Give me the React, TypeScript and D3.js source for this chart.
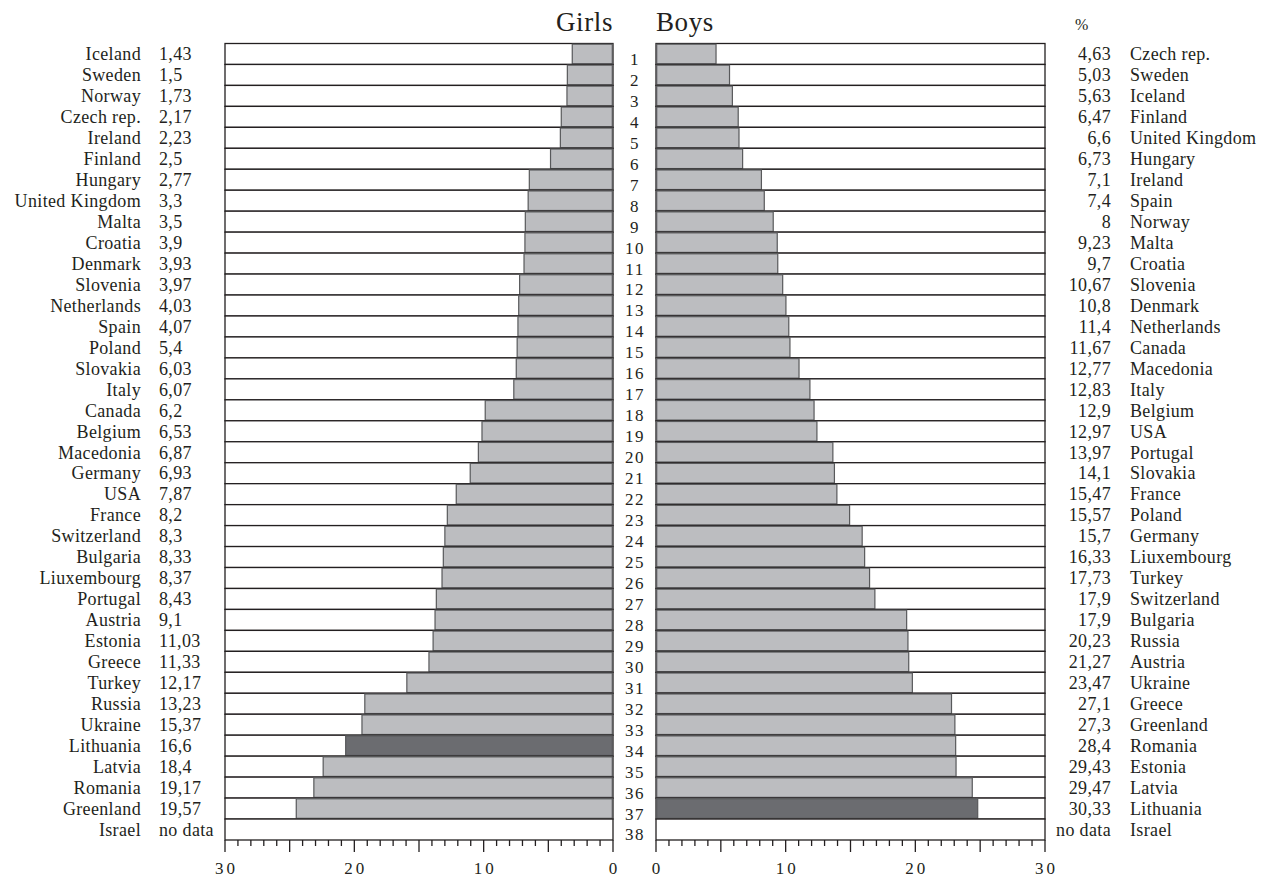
import { useMemo } from "react";
import * as d3 from "d3";

// ── Data: rank order (1 = lowest) ──────────────────────────────────────────
const girlsCountries = [
  "Iceland", "Sweden", "Norway", "Czech rep.", "Ireland", "Finland", "Hungary",
  "United Kingdom", "Malta", "Croatia", "Denmark", "Slovenia", "Netherlands",
  "Spain", "Poland", "Slovakia", "Italy", "Canada", "Belgium", "Macedonia",
  "Germany", "USA", "France", "Switzerland", "Bulgaria", "Liuxembourg",
  "Portugal", "Austria", "Estonia", "Greece", "Turkey", "Russia", "Ukraine",
  "Lithuania", "Latvia", "Romania", "Greenland", "Israel",
];
const girlsLabels = [
  "1,43", "1,5", "1,73", "2,17", "2,23", "2,5", "2,77", "3,3", "3,5", "3,9",
  "3,93", "3,97", "4,03", "4,07", "5,4", "6,03", "6,07", "6,2", "6,53", "6,87",
  "6,93", "7,87", "8,2", "8,3", "8,33", "8,37", "8,43", "9,1", "11,03", "11,33",
  "12,17", "13,23", "15,37", "16,6", "18,4", "19,17", "19,57", "no data",
];
// bar lengths as drawn in the picture
const girlsBars = [
  3.15, 3.53, 3.56, 4.0, 4.07, 4.83, 6.47, 6.56, 6.78, 6.81, 6.88, 7.22, 7.29,
  7.35, 7.41, 7.48, 7.67, 9.88, 10.13, 10.41, 11.04, 12.12, 12.81, 13.0, 13.12,
  13.22, 13.66, 13.76, 13.91, 14.23, 15.94, 19.19, 19.41, 20.67, 22.41, 23.13,
  24.49, 0,
];

const boysCountries = [
  "Czech rep.", "Sweden", "Iceland", "Finland", "United Kingdom", "Hungary",
  "Ireland", "Spain", "Norway", "Malta", "Croatia", "Slovenia", "Denmark",
  "Netherlands", "Canada", "Macedonia", "Italy", "Belgium", "USA", "Portugal",
  "Slovakia", "France", "Poland", "Germany", "Liuxembourg", "Turkey",
  "Switzerland", "Bulgaria", "Russia", "Austria", "Ukraine", "Greece",
  "Greenland", "Romania", "Estonia", "Latvia", "Lithuania", "Israel",
];
const boysLabels = [
  "4,63", "5,03", "5,63", "6,47", "6,6", "6,73", "7,1", "7,4", "8", "9,23",
  "9,7", "10,67", "10,8", "11,4", "11,67", "12,77", "12,83", "12,9", "12,97",
  "13,97", "14,1", "15,47", "15,57", "15,7", "16,33", "17,73", "17,9", "17,9",
  "20,23", "21,27", "23,47", "27,1", "27,3", "28,4", "29,43", "29,47", "30,33",
  "no data",
];
const boysBars = [
  4.63, 5.67, 5.89, 6.34, 6.4, 6.68, 8.13, 8.35, 9.04, 9.35, 9.39, 9.77, 10.02,
  10.24, 10.33, 11.03, 11.87, 12.19, 12.41, 13.64, 13.76, 13.95, 14.93, 15.9,
  16.09, 16.47, 16.88, 19.33, 19.43, 19.49, 19.77, 22.79, 23.05, 23.11, 23.14,
  24.39, 24.81, 0,
];

const highlight = "Lithuania";
const axisMax = 30;
const labelTicks = [0, 10, 20, 30];

// ── Layout ────────────────────────────────────────────────────────────────
const W = 1271;
const H = 877;
const TOP = 43.5;
const BOTTOM = 840;
const LEFT_X0 = 225;
const LEFT_X1 = 613;
const RIGHT_X0 = 656;
const RIGHT_X1 = 1045;

const FONT = "'Liberation Serif', 'Times New Roman', serif";
const INK = "#231f20";
const BAR = "#bcbdc0";
const BAR_DARK = "#6b6c70";
const BAR_EDGE = "#58595b";
const LABEL_SIZE = 18;
const LABEL_SPACING = 0.35;

export default function App() {
  const ranks = d3.range(1, girlsCountries.length + 1);

  const y = useMemo(
    () => d3.scaleBand<number>().domain(ranks).range([TOP, BOTTOM]).padding(0),
    []
  );
  const xGirls = d3.scaleLinear().domain([axisMax, 0]).range([LEFT_X0, LEFT_X1]);
  const xBoys = d3.scaleLinear().domain([0, axisMax]).range([RIGHT_X0, RIGHT_X1]);
  const bw = y.bandwidth();

  const minorTicks = d3.range(0, axisMax + 1, 1);

  const axis = (x: d3.ScaleLinear<number, number>, key: string) => (
    <g key={key}>
      {minorTicks.map((t) => (
        <line
          key={t}
          x1={x(t)}
          x2={x(t)}
          y1={BOTTOM}
          y2={BOTTOM + (t % 5 === 0 ? 12 : 6)}
          stroke={INK}
          strokeWidth={1.3}
        />
      ))}
      {labelTicks.map((t) => (
        <text
          key={"l" + t}
          x={x(t) + 1.5}
          y={BOTTOM + 34}
          textAnchor="middle"
          fontSize={17}
          letterSpacing={3}
          fill={INK}
        >
          {t}
        </text>
      ))}
    </g>
  );

  const labelProps = {
    fontSize: LABEL_SIZE,
    letterSpacing: LABEL_SPACING,
    fill: INK,
    dy: "0.35em",
  };

  return (
    <svg
      width={W}
      height={H}
      style={{ position: "absolute", left: 0, top: 0, background: "#fff" }}
      fontFamily={FONT}
    >
      {/* titles */}
      <text x={LEFT_X1} y={31} textAnchor="end" fontSize={27} letterSpacing={0.6} fill={INK}>
        Girls
      </text>
      <text x={RIGHT_X0} y={31} textAnchor="start" fontSize={27} letterSpacing={0.6} fill={INK}>
        Boys
      </text>
      <text x={1075} y={30} fontSize={16} fill={INK}>
        %
      </text>

      {/* girls rows */}
      {ranks.map((r, i) => {
        const yy = y(r)!;
        const v = girlsBars[i];
        return (
          <g key={"g" + r}>
            <rect x={LEFT_X0} y={yy} width={LEFT_X1 - LEFT_X0} height={bw} fill="#fff" stroke={INK} strokeWidth={1.3} />
            {v > 0 && (
              <rect
                x={xGirls(v)}
                y={yy + 0.7}
                width={LEFT_X1 - xGirls(v) - 0.7}
                height={bw - 1.4}
                fill={girlsCountries[i] === highlight ? BAR_DARK : BAR}
                stroke={BAR_EDGE}
                strokeWidth={1.2}
              />
            )}
            <text x={141} y={yy + bw / 2} textAnchor="end" {...labelProps}>
              {girlsCountries[i]}
            </text>
            <text x={159} y={yy + bw / 2} textAnchor="start" {...labelProps}>
              {girlsLabels[i]}
            </text>
          </g>
        );
      })}

      {/* boys rows */}
      {ranks.map((r, i) => {
        const yy = y(r)!;
        const v = boysBars[i];
        return (
          <g key={"b" + r}>
            <rect x={RIGHT_X0} y={yy} width={RIGHT_X1 - RIGHT_X0} height={bw} fill="#fff" stroke={INK} strokeWidth={1.3} />
            {v > 0 && (
              <rect
                x={RIGHT_X0 + 0.7}
                y={yy + 0.7}
                width={xBoys(v) - RIGHT_X0 - 0.7}
                height={bw - 1.4}
                fill={boysCountries[i] === highlight ? BAR_DARK : BAR}
                stroke={BAR_EDGE}
                strokeWidth={1.2}
              />
            )}
            <text x={1111} y={yy + bw / 2} textAnchor="end" {...labelProps}>
              {boysLabels[i]}
            </text>
            <text x={1130} y={yy + bw / 2} textAnchor="start" {...labelProps}>
              {boysCountries[i]}
            </text>
          </g>
        );
      })}

      {/* rank numbers */}
      {ranks.map((r) => (
        <text
          key={"r" + r}
          x={(LEFT_X1 + RIGHT_X0) / 2 + 0.5}
          y={y(r)! + bw / 2 + 5}
          dy="0.35em"
          textAnchor="middle"
          fontSize={17}
          letterSpacing={1.5}
          fill={INK}
        >
          {r}
        </text>
      ))}

      {axis(xGirls, "ag")}
      {axis(xBoys, "ab")}
    </svg>
  );
}
